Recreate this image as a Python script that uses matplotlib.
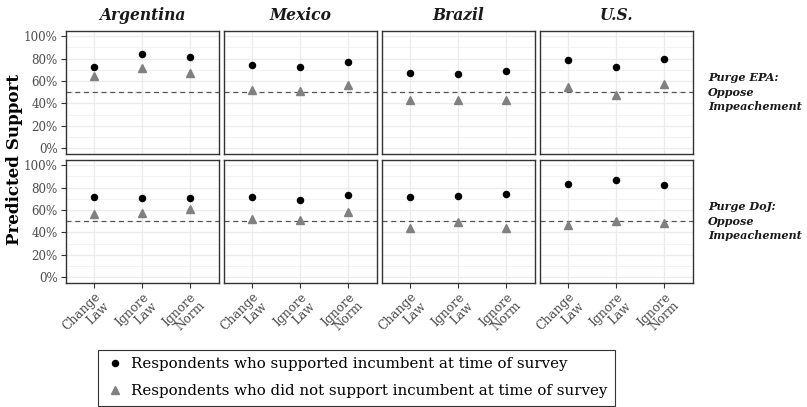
import numpy as np
import matplotlib
matplotlib.use('Agg')
import matplotlib.pyplot as plt
from matplotlib.lines import Line2D
from matplotlib.ticker import PercentFormatter, MultipleLocator


countries = ["Argentina", "Mexico", "Brazil", "U.S."]
actions = ["Change\nLaw", "Ignore\nLaw", "Ignore\nNorm"]
outcomes = ["Purge EPA:\nOppose\nImpeachement", "Purge DoJ:\nOppose\nImpeachement"]
group_labels = [
    "Respondents who supported incumbent at time of survey",
    "Respondents who did not support incumbent at time of survey",
]

# predicted support (%), one row per country, one column per action
epa_supporters = [
    [72.7, 84.4, 81.7],
    [74.5, 72.7, 76.9],
    [67.3, 66.4, 69.1],
    [79.0, 72.7, 79.9],
]
epa_non_supporters = [
    [64.6, 71.2, 67.0],
    [51.8, 51.2, 56.0],
    [42.8, 42.8, 43.4],
    [54.5, 47.9, 57.2],
]
doj_supporters = [
    [71.5, 70.5, 70.5],
    [71.5, 68.8, 73.3],
    [71.5, 72.4, 74.2],
    [83.2, 86.8, 82.3],
]
doj_non_supporters = [
    [56.3, 57.5, 60.5],
    [52.0, 51.0, 58.0],
    [44.3, 49.4, 44.0],
    [47.0, 50.3, 48.0],
]

FONT = 'DejaVu Serif'
TEXT_GREY = '#4D4D4D'
TRI_GREY = '#808080'


def style_panel(ax, row, col):
    ax.set_xlim(-0.6, 2.6)
    ax.set_ylim(-5, 105)
    ax.yaxis.set_major_locator(MultipleLocator(20))
    ax.yaxis.set_minor_locator(MultipleLocator(10))
    ax.yaxis.set_major_formatter(PercentFormatter(decimals=0))
    ax.set_xticks(range(len(actions)))
    ax.grid(which='major', color='#EBEBEB', linewidth=0.9, zorder=0)
    ax.grid(which='minor', axis='y', color='#EBEBEB', linewidth=0.45, zorder=0)
    ax.set_axisbelow(True)
    for spine in ax.spines.values():
        spine.set_color('#333333')
        spine.set_linewidth(1.0)
    ax.tick_params(axis='both', which='major', colors='#333333', labelcolor=TEXT_GREY,
                   length=3.5, width=0.8, pad=2, labelsize=8.6)
    ax.tick_params(axis='y', which='minor', length=0)
    if col > 0:
        ax.tick_params(axis='y', left=False, labelleft=False)
    if row == 0:
        ax.tick_params(axis='x', bottom=False, labelbottom=False)
    else:
        ax.set_xticklabels(actions, rotation=45, ha='right', va='top',
                           rotation_mode='anchor', multialignment='right',
                           linespacing=0.95, fontsize=8.8)
    for lab in ax.get_yticklabels() + ax.get_xticklabels():
        lab.set_fontfamily(FONT)


def main():
    fig = plt.figure(figsize=(8.07, 4.07), dpi=100)
    axes = fig.subplots(2, 4)
    fig.subplots_adjust(left=65.5 / 807, right=692.7 / 807,
                        top=1 - 30.7 / 407, bottom=1 - 282.7 / 407,
                        wspace=0.0326, hspace=0.049)

    rows = [(epa_supporters, epa_non_supporters), (doj_supporters, doj_non_supporters)]
    x = np.arange(len(actions))

    for r, (sup, non) in enumerate(rows):
        for c, country in enumerate(countries):
            ax = axes[r, c]
            ax.axhline(50, color='#555555', linestyle=(0, (4, 3)), linewidth=0.9, zorder=1)
            ax.plot(x, non[c], linestyle='none', marker='^', markersize=5.6,
                    color=TRI_GREY, zorder=3)
            ax.plot(x, sup[c], linestyle='none', marker='o', markersize=4.4,
                    color='black', zorder=3)
            style_panel(ax, r, c)
            if r == 0:
                ax.text(0.5, 1 + 15.5 / 123, country, transform=ax.transAxes,
                        ha='center', va='center', fontsize=11.2, fontweight='bold',
                        fontstyle='italic', family=FONT, color='#1A1A1A')
            if c == len(countries) - 1:
                ax.text(1 + 15.5 / 153, 0.5, outcomes[r], transform=ax.transAxes,
                        ha='left', va='center', fontsize=8.1, fontweight='bold',
                        fontstyle='italic', family=FONT, color='#1A1A1A',
                        linespacing=1.4)

    fig.text(15 / 807, 1 - 159 / 407, 'Predicted Support', rotation=90,
             ha='center', va='center', fontsize=12.1, fontweight='bold', family=FONT)

    handles = [
        Line2D([], [], linestyle='none', marker='o', markersize=4.4, color='black'),
        Line2D([], [], linestyle='none', marker='^', markersize=5.6, color=TRI_GREY),
    ]
    leg = fig.legend(handles, group_labels, loc='lower left',
                     bbox_to_anchor=(98 / 807, 1.5 / 407), frameon=True,
                     fancybox=False, edgecolor='#333333', framealpha=1,
                     prop={'family': FONT, 'size': 10.8}, borderpad=0.5,
                     handlelength=1.2, handletextpad=0.5, labelspacing=0.85,
                     borderaxespad=0)
    leg.get_frame().set_linewidth(0.8)

    plt.savefig('out.png', dpi=100)
    plt.close()


if __name__ == '__main__':
    main()
